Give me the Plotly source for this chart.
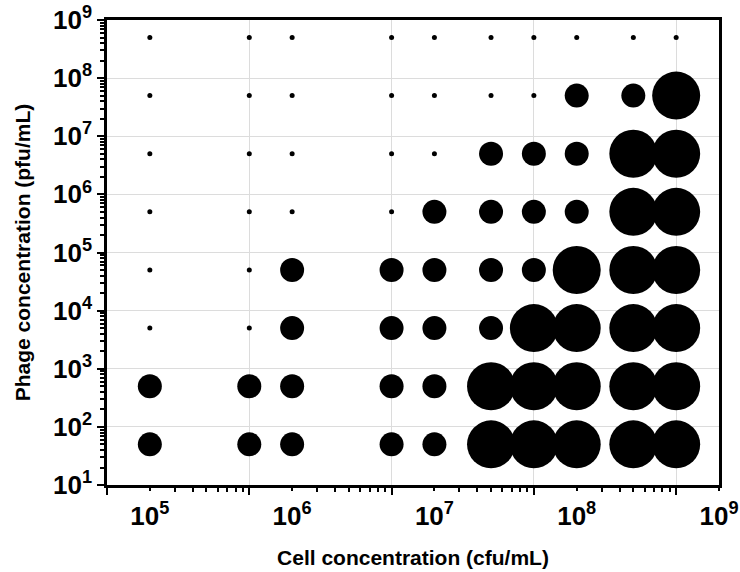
import math
import plotly.graph_objects as go

# Bacterial host concentrations (cfu/mL), one column of the grid each
cell_conc = [1e5, 5e5, 1e6, 5e6, 1e7, 2.5e7, 5e7, 1e8, 2.5e8, 5e8]
# Phage concentrations (pfu/mL), one row of the grid each (top to bottom)
phage_conc = [5e8, 5e7, 5e6, 5e5, 5e4, 5e3, 5e2, 5e1]
# Response level for each phage row / cell column: 0 = none, 1 = partial, 2 = full
response = [
    [0, 0, 0, 0, 0, 0, 0, 0, 0, 0],
    [0, 0, 0, 0, 0, 0, 0, 1, 1, 2],
    [0, 0, 0, 0, 0, 1, 1, 1, 2, 2],
    [0, 0, 0, 0, 1, 1, 1, 1, 2, 2],
    [0, 0, 1, 1, 1, 1, 1, 2, 2, 2],
    [0, 0, 1, 1, 1, 1, 2, 2, 2, 2],
    [1, 1, 1, 1, 1, 2, 2, 2, 2, 2],
    [1, 1, 1, 1, 1, 2, 2, 2, 2, 2],
]

x_label_vals = [1e5, 1e6, 1e7, 1e8, 1e9]
x_label_text = ["10<sup>5</sup>", "10<sup>6</sup>", "10<sup>7</sup>", "10<sup>8</sup>", "10<sup>9</sup>"]
x_major_vals = [5e4, 5e5, 5e6, 5e7, 5e8]
y_tick_vals = [1e1, 1e2, 1e3, 1e4, 1e5, 1e6, 1e7, 1e8, 1e9]
y_tick_text = ["10<sup>%d</sup>" % n for n in range(1, 10)]

# marker diameter (px) for each response level
level_size = {0: 5, 1: 24, 2: 48}

xs, ys, sizes = [], [], []
for r, p in enumerate(phage_conc):
    for c, cell in enumerate(cell_conc):
        xs.append(cell)
        ys.append(p)
        sizes.append(level_size[response[r][c]])

x_range = [math.log10(5e4), 9]
y_range = [1, 9]

# minor ticks: multiples of each major step inside the axis range
x_minor = [m * k for m in x_major_vals for k in range(3, 10) if m * k < 1e9]
y_minor = [10 ** n * k for n in range(1, 9) for k in range(2, 10)]

FONT = "Liberation Sans, Arial, sans-serif"

fig = go.Figure()
fig.add_trace(go.Scatter(
    x=xs, y=ys, mode="markers",
    marker=dict(size=sizes, sizemode="diameter", color="black",
                opacity=1, line=dict(width=0)),
    hoverinfo="x+y", showlegend=False,
))
# empty trace so the decade-label axis gets its own overlay
fig.add_trace(go.Scatter(
    x=[None], y=[None], xaxis="x2", yaxis="y", mode="markers",
    hoverinfo="skip", showlegend=False,
))

fig.update_layout(
    width=740, height=572,
    margin=dict(l=107, r=21, t=20, b=87, autoexpand=False),
    paper_bgcolor="white", plot_bgcolor="white",
    font=dict(family=FONT, color="black"),
    xaxis=dict(
        type="log", range=x_range, automargin=False,
        tickmode="array", tickvals=x_major_vals, showticklabels=False,
        ticks="outside", ticklen=7, tickwidth=1.5, tickcolor="black",
        showgrid=True, gridcolor="#dcdcdc", gridwidth=1,
        showline=True, linecolor="black", linewidth=2.5, mirror=True,
        zeroline=False,
        minor=dict(tickmode="array", tickvals=x_minor, ticks="outside",
                   ticklen=4, tickwidth=1.5, tickcolor="black", showgrid=False),
    ),
    xaxis2=dict(
        type="log", range=x_range, overlaying="x", anchor="y", side="bottom",
        automargin=False,
        tickmode="array", tickvals=x_label_vals, ticktext=x_label_text,
        ticks="outside", ticklen=5, tickwidth=1.5, tickcolor="black",
        tickfont=dict(family=FONT, size=26, weight="bold"),
        ticklabelstandoff=3,
        showgrid=False, showline=False, zeroline=False,
        title=dict(text="Cell concentration (cfu/mL)",
                   font=dict(family=FONT, size=21, weight="bold"), standoff=20),
    ),
    yaxis=dict(
        type="log", range=y_range, automargin=False,
        tickmode="array", tickvals=y_tick_vals, ticktext=y_tick_text,
        ticks="outside", ticklen=7, tickwidth=1.5, tickcolor="black",
        tickfont=dict(family=FONT, size=26, weight="bold"),
        showgrid=True, gridcolor="#dcdcdc", gridwidth=1,
        showline=True, linecolor="black", linewidth=2.5, mirror=True,
        zeroline=False,
        minor=dict(tickmode="array", tickvals=y_minor, ticks="outside",
                   ticklen=4, tickwidth=1.5, tickcolor="black", showgrid=False),
        title=dict(text="Phage concentration (pfu/mL)",
                   font=dict(family=FONT, size=21, weight="bold"), standoff=17),
    ),
)

fig.write_html("out.html")
